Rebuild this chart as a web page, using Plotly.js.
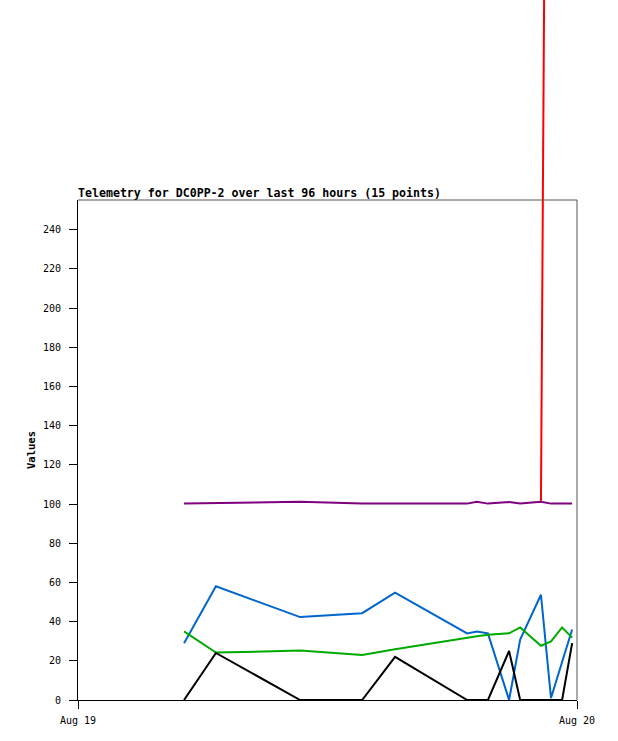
<!DOCTYPE html>
<html>
<head>
<meta charset="utf-8">
<script src="https://cdn.plot.ly/plotly-3.0.1.min.js"></script>
<style>html,body{margin:0;padding:0;background:#fff;}#chart{width:618px;height:741px;}</style>
</head>
<body>
<div id="chart"></div>
<script>
// ---- data ----
var times = [
  '2024-08-19 05:06', '2024-08-19 06:38', '2024-08-19 10:41', '2024-08-19 13:40',
  '2024-08-19 15:15', '2024-08-19 18:43', '2024-08-19 19:11', '2024-08-19 19:43',
  '2024-08-19 20:44', '2024-08-19 21:16', '2024-08-19 22:16', '2024-08-19 22:45',
  '2024-08-19 23:17', '2024-08-19 23:46'
];
var purpleVals = [100.2, 100.4, 101.2, 100.2, 100.2, 100.2, 101.2, 100.2, 101.0, 100.2, 101.2, 100.2, 100.2, 100.2];
var blueVals   = [29, 58, 42.3, 44.3, 54.8, 34, 34.9, 34, 0, 30.8, 53.7, 1, 19.4, 36];
var greenVals  = [35, 24.2, 25.2, 23, 25.9, 32, 32.5, 33.3, 34, 37, 27.7, 29.9, 37, 31.8];
var blackVals  = [0, 24, 0, 0, 22, 0, 0, 0, 25, 0, 0, 0, 0, 29];
var redTimes   = ['2024-08-19 22:16', '2024-08-19 22:45'];
var redVals    = [101.2, 920];

var titleText = 'Telemetry for DC0PP-2 over last 96 hours (15 points)';
var yTickVals = [0, 20, 40, 60, 80, 100, 120, 140, 160, 180, 200, 220, 240];
var xTickVals = ['2024-08-19 00:00', '2024-08-20 00:00'];
var xTickText = ['Aug 19', 'Aug 20'];

// ---- layout constants ----
var yTop = 255.1;            // top of framed value axis
var domTop = 500 / 700;      // framed area fraction of plotting height
var mono = 'DejaVu Sans Mono, Liberation Mono, monospace';

function tr(x, y, color) {
  return {x: x, y: y, type: 'scatter', mode: 'lines', yaxis: 'y2',
          line: {color: color, width: 2}, hoverinfo: 'skip', showlegend: false};
}

var data = [
  {x: [], y: [], type: 'scatter', mode: 'lines', yaxis: 'y', showlegend: false},
  tr(redTimes, redVals, '#ff0000'),
  tr(times, purpleVals, '#7f007f'),
  tr(times, blueVals, '#0066cc'),
  tr(times, greenVals, '#00aa00'),
  tr(times, blackVals, '#000000')
];

var layout = {
  width: 618, height: 741,
  margin: {l: 78, r: 41, t: 0, b: 41, pad: 0},
  paper_bgcolor: '#ffffff', plot_bgcolor: 'rgba(0,0,0,0)',
  showlegend: false,
  font: {family: mono, size: 10, color: '#000'},
  title: {text: titleText, x: 0, xref: 'paper', xanchor: 'left',
          y: (700 - 193) / 700, yref: 'paper', yanchor: 'middle',
          font: {family: mono, size: 11.6, color: '#000', weight: 'bold'}},
  xaxis: {type: 'date', range: ['2024-08-19 00:00', '2024-08-20 00:00'],
          tickvals: xTickVals, ticktext: xTickText, tickmode: 'array',
          ticks: 'outside', ticklen: 8, tickwidth: 1, tickcolor: '#000',
          ticklabelstandoff: 3,
          showgrid: false, zeroline: false, showline: true, linecolor: '#000', linewidth: 1,
          anchor: 'y', tickfont: {family: mono, size: 10, color: '#000'}},
  yaxis: {range: [0, yTop], domain: [0, domTop], tickvals: yTickVals, tickmode: 'array',
          ticks: 'outside', ticklen: 8, tickwidth: 1, tickcolor: '#000',
          ticklabelstandoff: 6,
          showgrid: false, zeroline: false, showline: true, linecolor: '#000', linewidth: 1,
          anchor: 'x', tickfont: {family: mono, size: 10, color: '#000'},
          title: {text: 'Values', standoff: 5, font: {family: mono, size: 10.5, color: '#000', weight: 'bold'}}},
  yaxis2: {range: [0, yTop / domTop], domain: [0, 1], anchor: 'x', visible: false,
           showgrid: false, zeroline: false},
  shapes: [
    {type: 'line', xref: 'x domain', yref: 'y domain', x0: 0, x1: 1, y0: 1, y1: 1,
     line: {color: '#555555', width: 1}},
    {type: 'line', xref: 'x domain', yref: 'y domain', x0: 1, x1: 1, y0: 0, y1: 1,
     line: {color: '#555555', width: 1}}
  ]
};

Plotly.newPlot('chart', data, layout, {staticPlot: true, displayModeBar: false});
</script>
</body>
</html>
